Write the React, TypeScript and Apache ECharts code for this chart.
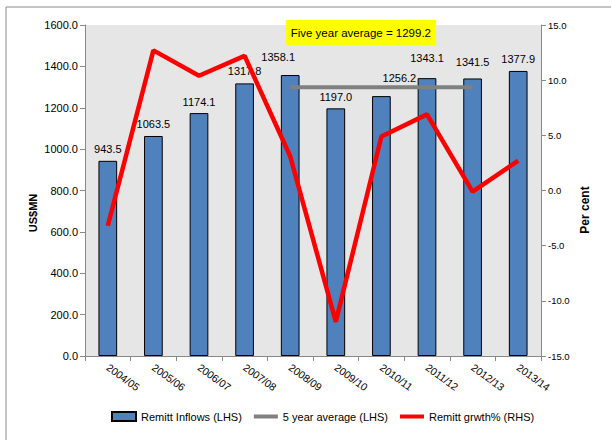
import React, { useEffect, useRef } from "react";
import * as echarts from "echarts";

const categories = ["2004/05", "2005/06", "2006/07", "2007/08", "2008/09", "2009/10", "2010/11", "2011/12", "2012/13", "2013/14"];
const inflows = [943.5, 1063.5, 1174.1, 1317.8, 1358.1, 1197.0, 1256.2, 1343.1, 1341.5, 1377.9];
const fiveYearAvg = [null, null, null, null, 1299.2, 1299.2, 1299.2, 1299.2, 1299.2, null];
const growth = [-3.2, 12.7, 10.4, 12.2, 3.1, -11.9, 4.9, 6.9, -0.1, 2.7];
const avgText = "Five year average = 1299.2";
const leftAxisName = "US$MN";
const rightAxisName = "Per cent";

const labelOffsets: [number, number][] = [
  [0, 0], [0, 0], [0, 0], [0, -1], [-12, -7], [0, 0], [18, -7], [0, -9], [0, -5], [0, 0],
];

const FONT = "'Liberation Sans', Arial, sans-serif";

export default function App() {
  const ref = useRef<HTMLDivElement>(null);
  useEffect(() => {
    if (!ref.current) return;
    const chart = echarts.init(ref.current, null, { renderer: "svg" });
    chart.setOption({
      animation: false,
      textStyle: { fontFamily: FONT },
      grid: {
        left: 85, right: 70, top: 25, bottom: 84,
        show: true, backgroundColor: "#e6e6e6", borderWidth: 0,
      },
      graphic: [
        {
          type: "rect", shape: { x: 6, y: 7, width: 800, height: 600 },
          style: { fill: "none", stroke: "#8c8c8c", lineWidth: 1 }, z: -1, silent: true,
        },
        {
          type: "rect", shape: { x: 286, y: 20, width: 150, height: 25 },
          style: { fill: "#ffff00" }, z: 10,
        },
        {
          type: "text", x: 431, y: 33, z: 11,
          style: {
            text: avgText, fill: "#000", font: `11.5px ${FONT}`,
            textAlign: "right", textVerticalAlign: "middle",
          },
        },
        {
          type: "text", x: 33, y: 213, rotation: Math.PI / 2, z: 11,
          style: {
            text: leftAxisName, fill: "#000", font: `bold 11px ${FONT}`,
            textAlign: "center", textVerticalAlign: "middle",
          },
        },
        {
          type: "text", x: 585, y: 210, rotation: Math.PI / 2, z: 11,
          style: {
            text: rightAxisName, fill: "#000", font: `bold 12px ${FONT}`,
            textAlign: "center", textVerticalAlign: "middle",
          },
        },
      ],
      legend: {
        bottom: 13, left: 106,
        itemWidth: 24, itemHeight: 9, itemGap: 12,
        textStyle: { fontFamily: FONT, fontSize: 11, color: "#000" },
        data: [
          { name: "Remitt Inflows (LHS)", icon: "rect" },
          { name: "5 year average (LHS)", icon: "path://M0,0H24V4H0Z" },
          { name: "Remitt grwth% (RHS)", icon: "path://M0,0H24V4H0Z" },
        ],
      },
      xAxis: {
        type: "category",
        data: categories,
        boundaryGap: true,
        axisLine: { lineStyle: { color: "#888" } },
        axisTick: { show: true, length: 5, lineStyle: { color: "#888" } },
        axisLabel: { rotate: -36, color: "#000", fontSize: 10.5, margin: 10, interval: 0, fontFamily: FONT },
        splitLine: { show: false },
      },
      yAxis: [
        {
          type: "value", min: 0, max: 1600, interval: 200,
          axisLine: { show: true, lineStyle: { color: "#888" } },
          axisTick: { show: true, length: 5, lineStyle: { color: "#888" } },
          axisLabel: { formatter: (v: number) => v.toFixed(1), color: "#000", fontSize: 11, margin: 7, fontFamily: FONT },
          splitLine: { show: false },
        },
        {
          type: "value", min: -15, max: 15, interval: 5, position: "right",
          axisLine: { show: true, lineStyle: { color: "#888" } },
          axisTick: { show: true, length: 5, lineStyle: { color: "#888" } },
          axisLabel: { formatter: (v: number) => v.toFixed(1), color: "#000", fontSize: 9.5, margin: 7, fontFamily: FONT },
          splitLine: { show: false },
        },
      ],
      series: [
        {
          name: "Remitt Inflows (LHS)",
          type: "bar",
          yAxisIndex: 0,
          barWidth: "41%",
          itemStyle: { color: "#4f81bd", borderColor: "#000", borderWidth: 1 },
          data: inflows.map((v, i) => ({ value: v, label: { offset: labelOffsets[i] } })),
          label: {
            show: true, position: "top", distance: 6,
            formatter: (p: any) => Number(p.value).toFixed(1),
            color: "#000", fontSize: 11, fontFamily: FONT,
          },
          z: 2,
        },
        {
          name: "5 year average (LHS)",
          type: "line",
          yAxisIndex: 0,
          data: fiveYearAvg,
          symbol: "none",
          lineStyle: { color: "#808080", width: 4 },
          itemStyle: { color: "#808080" },
          z: 3,
        },
        {
          name: "Remitt grwth% (RHS)",
          type: "line",
          yAxisIndex: 1,
          data: growth,
          symbol: "none",
          lineStyle: { color: "#ff0000", width: 4.5 },
          itemStyle: { color: "#ff0000" },
          z: 4,
        },
      ],
    });
    return () => chart.dispose();
  }, []);
  return <div ref={ref} style={{ width: 611, height: 440, position: "absolute", left: 0, top: 0 }} />;
}
